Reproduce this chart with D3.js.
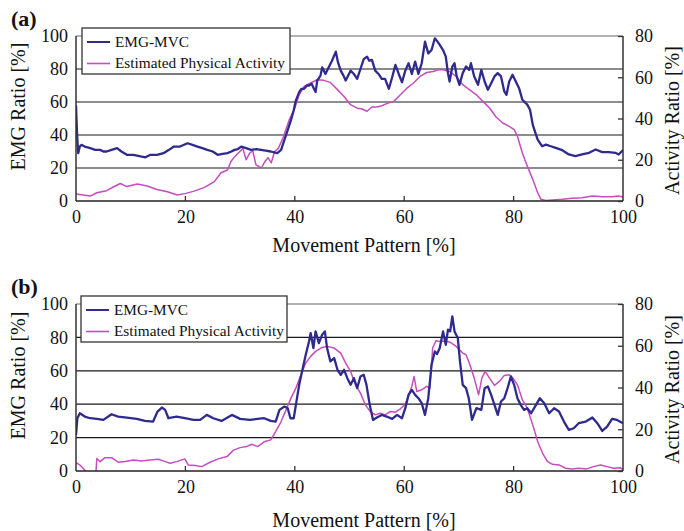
<!DOCTYPE html>
<html>
<head>
<meta charset="utf-8">
<script src="https://cdn.jsdelivr.net/npm/d3@7"></script>
<style>
    body{margin:0;background:#fff;}
    svg{display:block;}
    text{font-family:"Liberation Serif","Times New Roman",serif;fill:#111;}
</style>
</head>
<body>
<div id="chart"></div>
<script>
//x ticks (movement pattern) and the two y axes
var xTicks = [0,20,40,60,80,100];
var emgTicks = [0,20,40,60,80,100];
var actTicks = [0,20,40,60,80];
var legendNames = ["EMG-MVC","Estimated Physical Activity"];

//panel (a) - [movement %, value]
var emgA = [[0,58],[0.2,40],[0.4,29],[0.7,33],[1,34],[1.6,33],[2.6,32],[3.5,31],[4.4,31],[5,30],[5.6,30],[6.5,31],[7.5,32],[8.3,30],[9.3,28],[10.5,28],[11.8,27],[12.7,26.5],[13.6,28],[14.8,28],[16,29],[17,31],[17.9,33],[19,33],[20.4,35],[21.3,34],[22.2,33],[23.1,32],[24,31],[25,30],[25.9,28],[26.8,28.5],[27.7,29],[28.4,30],[29,31],[29.6,31.5],[30.2,33],[31.1,32],[32,31],[33,31.5],[33.8,31],[34.7,30.5],[35.6,30],[36.2,29.5],[36.8,29],[37.5,31],[38.1,37],[38.7,43],[39.3,49],[39.8,55],[40.2,61],[40.8,66],[41.2,68],[41.7,68],[42.2,70],[42.6,70],[43.1,71],[43.5,68],[43.8,66],[44.1,73],[44.7,76],[45,81],[45.6,77],[46.2,81],[46.8,85],[47.5,90.5],[47.9,84],[48.4,79],[48.9,76],[49.3,73],[49.6,75],[50.2,79],[50.8,77],[51.4,74],[52,80],[52.6,86],[53.2,87.5],[53.6,85],[54.1,85.5],[54.7,79],[55.3,77],[55.9,74],[56.5,74],[57.2,68],[57.8,75],[58.4,82.5],[59,77],[59.6,72],[60.2,79],[60.8,83.5],[61.4,77],[62,84.5],[62.6,77],[63.2,83.5],[63.8,96.6],[64.4,89.5],[65,91.5],[65.6,98.6],[66,97],[66.5,94.6],[67.1,91.5],[67.6,87.5],[68,77.5],[68.3,72.4],[68.8,81.5],[69.2,83.5],[69.6,75.5],[70.1,70.4],[70.7,77.5],[71.3,81.5],[71.9,79.5],[72.2,83.5],[72.8,75.5],[73.5,70.4],[74.1,79.5],[74.7,72.4],[75.3,67.4],[75.9,71.4],[76.5,75.5],[77.1,77.5],[77.7,75.5],[78.3,66.4],[78.7,64.4],[79.2,72.4],[79.8,76.5],[80.4,72.4],[81,68.4],[81.6,61.4],[82.5,58.4],[83,55.3],[83.5,46.3],[84,41.2],[84.4,37.2],[85.2,33.2],[85.9,34.2],[86.8,33.2],[87.7,32.2],[88.9,30.8],[90.1,28.2],[91.3,27.2],[92.5,28.2],[93.8,29.2],[95,31.2],[96.2,29.6],[97.4,29.6],[98.6,29.2],[99.2,28.2],[100,30.8]];
var actA = [[0,3.4],[1.3,2.9],[2.6,2.4],[3.8,4],[5.6,5],[6.9,6.9],[8.1,8.5],[9.3,7],[11.2,8.2],[13,7.3],[14.8,5.6],[16.7,4.5],[18.5,2.9],[20.1,3.7],[21.6,4.8],[23.4,6.5],[25.3,9.4],[26.5,13.7],[27.7,15],[28.3,19],[29,21.5],[29.9,23.9],[30.5,25.5],[31.1,20],[31.7,23],[32.3,24.5],[32.9,17.5],[33.9,16],[34.5,19],[35.1,21],[35.7,18.5],[36.3,24],[37,25.5],[37.9,31],[39,39.5],[39.9,44.3],[40.8,51.5],[41.7,55.6],[42.9,57.2],[44.1,58.8],[45.3,58.5],[46.5,57.5],[47.8,54],[49,50.7],[50.2,46.7],[51.4,45],[52.3,44.6],[53.2,43.5],[54.1,45.6],[55,45.6],[55.9,46.2],[56.8,47.2],[58.1,48.3],[59.3,51.5],[60.5,54.7],[61.7,57.2],[62.9,60.4],[64.1,62.3],[65.3,62.8],[66.2,63.6],[67.1,63.6],[68.3,62.8],[69.5,60.4],[70.7,56.4],[71.9,54],[73.2,51.5],[74.4,48.3],[75.6,45.1],[76.8,40.7],[78,37.8],[79.2,36.2],[80.1,34.6],[80.7,31.4],[81.6,23.3],[82.5,16.9],[83.5,10.5],[84.4,4],[85,0.8],[85.9,0.3],[87.1,0.5],[88.9,0.8],[90.7,1.3],[92.5,1.6],[94.4,2.4],[96.2,2.1],[98,2.1],[99.2,2.4],[100,1.9]];

//panel (b)
var emgB = [[0,21.6],[0.25,31.6],[0.7,34.6],[1.6,32.6],[2.6,31.6],[3.8,31.2],[5,30.6],[6.5,34],[7.7,32.6],[9.3,32],[11.1,31.2],[12.6,30],[14.1,29.6],[14.9,35.6],[15.7,38],[16.3,36.6],[16.9,31.6],[18.4,32.6],[19.9,31.6],[21.5,30.6],[22.7,30.6],[23.9,33.6],[25.1,31.6],[26.6,30],[28.5,33.6],[30,31.2],[31.8,30.6],[33.2,31.2],[34.4,31.6],[35.6,30],[36.5,29.6],[37.2,36.6],[38.1,38.6],[38.7,37.6],[39.2,31.6],[39.8,31.6],[40.2,39.6],[40.8,51.6],[41.4,60.6],[42,69.6],[42.6,77.6],[42.9,82.6],[43.4,73.6],[43.8,83.6],[44.4,76.6],[45,81.6],[45.5,83.6],[45.9,73.6],[46.5,65.6],[47.2,67.6],[47.8,60.6],[48.4,57.6],[49,60.6],[49.6,55.6],[50.2,51.6],[50.8,55.6],[51.4,49.6],[52,56.6],[52.6,57.6],[53.1,51.6],[53.7,39.6],[54.3,30.6],[55,32],[55.9,33.6],[56.8,32.6],[57.8,31.2],[58.7,33.6],[59.6,31.6],[60.2,37.6],[60.8,45.6],[61.4,48.6],[62,45.6],[62.6,43.6],[63.2,40.6],[63.8,33.6],[64.4,43.6],[65,63.6],[65.6,71.6],[66,70],[66.5,73.6],[67.1,83.6],[67.6,75.6],[68,84.6],[68.4,83.6],[68.8,92.6],[69.2,83.6],[69.8,79.6],[70.2,65.6],[70.7,51.6],[71.3,49.6],[71.8,43.6],[72.4,30.6],[73.2,37.6],[74.1,36.6],[74.7,49.6],[75.3,50.6],[75.9,45.6],[76.5,39.6],[77.1,33.6],[77.7,41.6],[78.3,43.6],[78.9,49.6],[79.5,56.6],[80.1,51.6],[80.7,43.6],[81.3,39.6],[81.9,36.6],[82.5,37.6],[83.2,34.6],[84.1,39.6],[84.8,43.6],[85.6,40.6],[86.5,34.6],[87.4,37.6],[88.3,35.6],[89.2,29.6],[90.1,24.6],[91,25.6],[91.9,28.6],[93.2,29.6],[94.4,32],[95.3,28.6],[96.2,24],[97.1,26.6],[98,31.2],[98.9,30.6],[100,28.6]];
var actB = [[0,4],[0.7,2.9],[1.6,0.5],[2,-1],[3.6,-3],[3.8,6],[4.4,4.5],[5.3,6.4],[6.5,6.4],[7.7,4.2],[9,4.5],[10.5,5.3],[12,4.8],[13.5,5.3],[15.1,5.6],[16.3,4.5],[17.2,3.7],[18.4,4.5],[19.9,5.8],[20.5,2.9],[21.8,2.6],[23,2.1],[24.5,4.2],[26,5.8],[27.6,6.9],[28.8,10],[30,11.2],[31.2,11.7],[32.1,12.8],[33.2,11.7],[34.4,14],[35.6,14.9],[36.5,18.9],[37.5,23.7],[38.4,29.3],[39.3,34.9],[40.2,39.7],[41.1,46],[42,51.7],[42.9,54.9],[43.8,57.3],[45,59.2],[45.9,59.7],[47.2,58.9],[48.4,56.5],[49.3,51.7],[50.2,47.7],[51.1,41.3],[52,37.3],[52.9,31.7],[53.8,28.5],[54.7,26.9],[55.6,27.7],[56.5,26.9],[57.5,28.5],[58.4,28.2],[59.3,29.8],[60.2,32],[60.8,36.5],[61.4,40.5],[61.8,45.3],[62.3,38.1],[63.2,38.9],[64.1,40.5],[64.7,39.7],[65.2,58.9],[65.8,62.4],[66.4,62.1],[67.1,62.1],[68.3,61.8],[69.5,59.7],[70.7,56.5],[71.3,55.7],[71.9,51.7],[72.8,44.5],[73.6,36.5],[74.2,44.5],[74.8,47.7],[75.6,44.5],[76.5,41],[77.4,42.9],[78.3,45.8],[79.2,46.1],[79.9,44.5],[80.7,41.3],[81.6,34.1],[82.5,30.1],[83.5,22.1],[84.4,14.1],[85.3,8.5],[86.2,4.5],[87.1,3.2],[88.3,2.9],[89.5,1.3],[90.7,1],[91.9,1.3],[93.4,1],[94.6,2.1],[95.9,2.9],[97.1,2.1],[98.3,1.3],[99.5,1.6],[100,0.5]];

(function(){
    var W = 684, H = 531;
    var left = 76, right = 623;
    var blue = "#2f2a8e", pink = "#c64dbf";

    var svg = d3.select("#chart").append("svg")
        .attr("width",W).attr("height",H);

    function drawPanel(p){
        var g = svg.append("g");
        var x = d3.scaleLinear().domain([0,100]).range([left,right]);
        var yL = d3.scaleLinear().domain([0,100]).range([p.bottom,p.top]);
        var yR = d3.scaleLinear().domain([0,80]).range([p.bottom,p.top]);

        //clip for the lines
        g.append("clipPath").attr("id","clip"+p.id)
            .append("rect")
            .attr("x",left).attr("y",p.top)
            .attr("width",right-left).attr("height",p.bottom-p.top);

        //horizontal grid
        g.selectAll(".grid").data(emgTicks.slice(1)).enter()
            .append("line")
            .attr("x1",left).attr("x2",right)
            .attr("y1",function(d){return yL(d)}).attr("y2",function(d){return yL(d)})
            .attr("stroke",function(d){return d==100 ? "#666" : "#1a1a1a"})
            .attr("stroke-width",1.2);

        var line = function(ys){
            return d3.line().x(function(d){return x(d[0])}).y(function(d){return ys(d[1])});
        };
        var lines = g.append("g").attr("clip-path","url(#clip"+p.id+")");
        lines.append("path").datum(p.act)
            .attr("d",line(yR))
            .attr("fill","none").attr("stroke",pink).attr("stroke-width",1.5)
            .attr("stroke-linejoin","round");
        lines.append("path").datum(p.emg)
            .attr("d",line(yL))
            .attr("fill","none").attr("stroke",blue).attr("stroke-width",2.3)
            .attr("stroke-linejoin","round");

        //frame
        g.append("line").attr("x1",left).attr("x2",left).attr("y1",p.top).attr("y2",p.bottom)
            .attr("stroke","#333").attr("stroke-width",1.5);
        g.append("line").attr("x1",right).attr("x2",right).attr("y1",p.top).attr("y2",p.bottom)
            .attr("stroke","#333").attr("stroke-width",1.5);
        g.append("line").attr("x1",left).attr("x2",right).attr("y1",p.bottom).attr("y2",p.bottom)
            .attr("stroke","#222").attr("stroke-width",1.5);

        //bottom axis
        var xAxis = d3.axisBottom(x).tickValues(xTicks).tickSize(0).tickPadding(9);
        var gx = g.append("g").attr("transform","translate(0,"+p.bottom+")").call(xAxis);
        gx.select(".domain").remove();
        gx.selectAll("text").style("font-size","18px").style("font-family","Liberation Serif").attr("fill","#111");
        g.selectAll(".xt").data(xTicks.slice(1,-1)).enter()
            .append("line")
            .attr("x1",function(d){return x(d)}).attr("x2",function(d){return x(d)})
            .attr("y1",p.bottom).attr("y2",p.bottom-5)
            .attr("stroke","#333").attr("stroke-width",1.3);

        //left axis labels
        var yAxis = d3.axisLeft(yL).tickValues(emgTicks).tickSize(0).tickPadding(8);
        var gy = g.append("g").attr("transform","translate("+left+",0)").call(yAxis);
        gy.select(".domain").remove();
        gy.selectAll("text").style("font-size","18px").style("font-family","Liberation Serif").attr("fill","#111");

        //right axis
        var rAxis = d3.axisRight(yR).tickValues(actTicks).tickSize(-5).tickPadding(12);
        var gr = g.append("g").attr("transform","translate("+right+",0)").call(rAxis);
        gr.select(".domain").remove();
        gr.selectAll("line").attr("stroke","#333").attr("stroke-width",1.3);
        gr.selectAll("text").style("font-size","18px").style("font-family","Liberation Serif").attr("fill","#111");

        //axis titles
        g.append("text").attr("x",364).attr("y",p.xLabelY)
            .attr("text-anchor","middle").style("font-size","20px")
            .text("Movement Pattern [%]");
        g.append("text")
            .attr("transform","translate(25,"+((p.top+p.bottom)/2-12)+") rotate(-90)")
            .attr("text-anchor","middle").style("font-size","20px")
            .text("EMG Ratio [%]");
        g.append("text")
            .attr("transform","translate(679,"+((p.top+p.bottom)/2+2)+") rotate(-90)")
            .attr("text-anchor","middle").style("font-size","20px")
            .text("Activity Ratio [%]");

        //panel letter
        g.append("text").attr("x",11).attr("y",p.letterY)
            .style("font-size","22px").style("font-weight","bold")
            .text(p.letter);

        //legend
        var lg = g.append("g").attr("transform","translate("+p.legX+","+p.legY+")");
        lg.append("rect").attr("width",p.legW).attr("height",46)
            .attr("fill","#fff").attr("stroke","#333").attr("stroke-width",1.3);
        var cols = [blue,pink];
        legendNames.forEach(function(name,i){
            var yy = 14 + i*21.5;
            lg.append("line").attr("x1",5).attr("x2",28).attr("y1",yy).attr("y2",yy)
                .attr("stroke",cols[i]).attr("stroke-width",i==0 ? 2 : 1.6);
            lg.append("text").attr("x",33).attr("y",yy+4.5)
                .style("font-size","15.3px").text(name);
        });
    }

    drawPanel({id:"a",top:36,bottom:201,emg:emgA,act:actA,letter:"(a)",letterY:26,
        xLabelY:252,legX:82,legY:28,legW:208});
    drawPanel({id:"b",top:304,bottom:471,emg:emgB,act:actB,letter:"(b)",letterY:294,
        xLabelY:527,legX:81,legY:296,legW:206});
})();
</script>
</body>
</html>
